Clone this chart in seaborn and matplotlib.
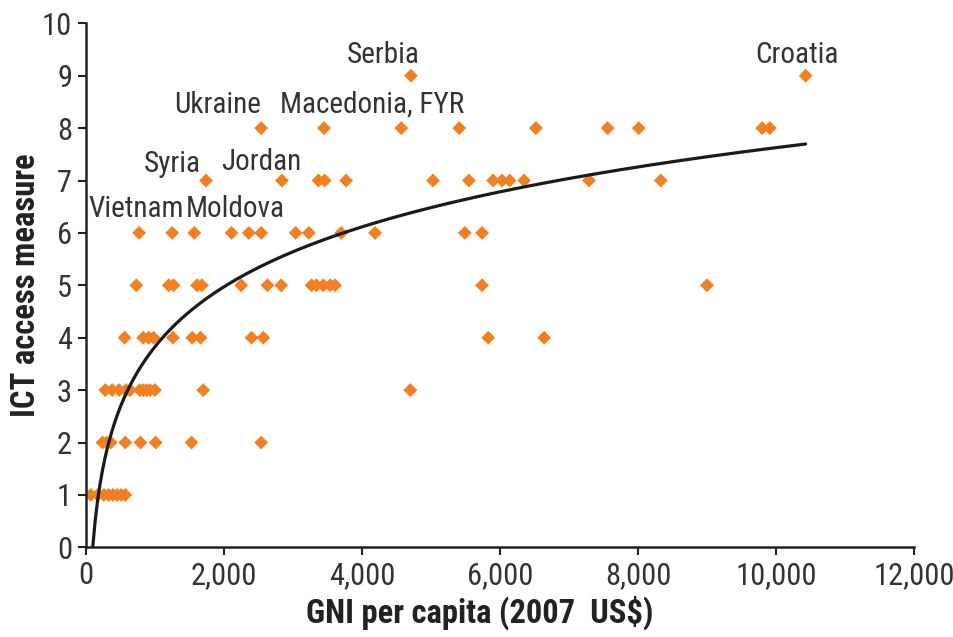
import numpy as np
import pandas as pd
import matplotlib
matplotlib.use("Agg")
import matplotlib.pyplot as plt
import matplotlib.ticker as mticker
import seaborn as sns

# GNI per capita (2007 US$) of each country, grouped by ICT access measure
ict_levels = [1, 2, 3, 4, 5, 6, 7, 8, 9]
gni_at_1 = [70, 170, 260, 330, 390, 450, 510, 570]
gni_at_2 = [240, 300, 360, 570, 790, 1010, 1530, 2540]
gni_at_3 = [280, 380, 480, 580, 640, 780, 830, 880, 930, 1000, 1700, 4700]
gni_at_4 = [560, 830, 910, 980, 1260, 1540, 1660, 2400, 2570, 5830, 6640]
gni_at_5 = [730, 1200, 1270, 1610, 1680, 2250, 2630, 2830, 3270, 3340, 3440,
            3540, 3610, 5740, 9000]
gni_at_6 = [770, 1250, 1570, 2110, 2360, 2540, 3040, 3230, 3700, 4190, 5490, 5740]
gni_at_7 = [1740, 2840, 3370, 3460, 3770, 5030, 5550, 5900, 6030, 6140, 6350,
            7290, 8330]
gni_at_8 = [2540, 3450, 4570, 5410, 6520, 7560, 8010, 9800, 9910]
gni_at_9 = [4710, 10430]

groups = [gni_at_1, gni_at_2, gni_at_3, gni_at_4, gni_at_5, gni_at_6,
          gni_at_7, gni_at_8, gni_at_9]
df = pd.DataFrame({
    "gni": [g for grp in groups for g in grp],
    "ict": [lvl for lvl, grp in zip(ict_levels, groups) for _ in grp],
})

# labelled countries and where their names sit
label_names = ["Serbia", "Croatia", "Ukraine", "Macedonia, FYR", "Syria",
               "Jordan", "Vietnam", "Moldova"]
label_x = [4310, 10300, 1900, 4150, 1250, 2540, 730, 2170]
label_y = [9.25, 9.25, 8.29, 8.29, 7.17, 7.2, 6.31, 6.31]

# logarithmic trend line (ict = intercept + slope * ln(gni))
trend_intercept = -7.57
trend_slope = 1.65
trend_x = np.linspace(100, df["gni"].max(), 300)
trend = pd.DataFrame({"gni": trend_x,
                      "ict": trend_intercept + trend_slope * np.log(trend_x)})

sns.set_style("ticks")
plt.rcParams["font.family"] = ["Roboto Condensed", "DejaVu Sans"]

fig = plt.figure(figsize=(9.54, 6.37), dpi=100)
ax = fig.add_axes([0.0901, 0.1408, 0.868, 0.8226])

sns.scatterplot(data=df, x="gni", y="ict", marker="D", s=50, color="#F28023",
                edgecolor="none", linewidth=0, ax=ax, zorder=2)
sns.lineplot(data=trend, x="gni", y="ict", color="#1a1a1a", linewidth=2.3,
             ax=ax, zorder=3)

for name, lx, ly in zip(label_names, label_x, label_y):
    ax.text(lx, ly, name, ha="center", va="baseline", fontsize=21,
            color="#333333")

ax.set_xlim(0, 12000)
ax.set_ylim(0, 10)
ax.set_xticks(range(0, 12001, 2000))
ax.set_yticks(range(0, 11))
ax.xaxis.set_major_formatter(mticker.FuncFormatter(lambda v, p: f"{int(v):,}"))
ax.tick_params(axis="both", labelsize=22, length=6, width=1.5, color="#222222",
               labelcolor="#333333", pad=4)
sns.despine(ax=ax)
for side in ["left", "bottom"]:
    ax.spines[side].set_linewidth(1.8)
    ax.spines[side].set_color("#222222")

ax.set_xlabel("GNI per capita (2007  US$)", fontsize=23.5, fontweight="bold",
              color="#222222", labelpad=4)
ax.xaxis.label.set_x(0.476)
ax.set_ylabel("ICT access measure", fontsize=23.5, fontweight="bold",
              color="#222222", labelpad=0)

fig.savefig("out.png", dpi=100)
